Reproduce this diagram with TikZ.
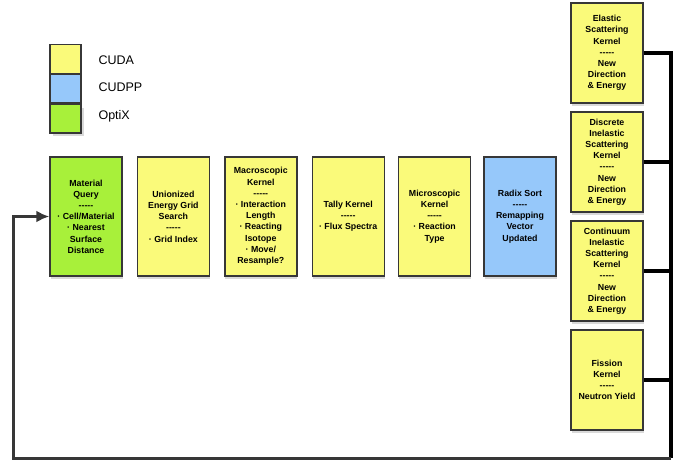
\documentclass[tikz,border=0pt]{standalone}
\usepackage{fontspec}
\setmainfont{Liberation Sans}
\usetikzlibrary{positioning,shadows,arrows.meta}
\definecolor{cudayellow}{RGB}{250,250,122}
\definecolor{cudppblue}{RGB}{150,200,250}
\definecolor{optixgreen}{RGB}{168,240,58}
\definecolor{edgegray}{RGB}{55,55,55}
\newcommand{\dashsep}{-{}-{}-{}-{}-}
\begin{document}
\begin{tikzpicture}[x=1pt,y=1pt,
        box/.style={draw=edgegray, line width=1.4pt, minimum width=72pt, inner sep=1pt,
          align=center, font=\fontsize{8.8}{11.2}\selectfont\bfseries,
          drop shadow={shadow xshift=0.5pt, shadow yshift=-3pt, opacity=0.3}},
        cuda/.style={box, fill=cudayellow},
        cudpp/.style={box, fill=cudppblue},
        optix/.style={box, fill=optixgreen},
        mainbox/.style={minimum height=119pt},
        sidebox/.style={cuda, minimum height=100pt},
        swatch/.style={draw=edgegray, line width=1.4pt, minimum width=31pt, minimum height=28.5pt, inner sep=0pt},
        legendtext/.style={anchor=west, font=\fontsize{12.5}{14}\selectfont},
        bus/.style={line width=3.2pt, black},
        back/.style={line width=3pt, edgegray, -{Latex[length=13pt,width=12pt]}}]
  \useasboundingbox (0,0) rectangle (681,-464);
  % legend
  \node[swatch, fill=cudayellow] (legcuda) at (65.5,-59) {};
  \node[swatch, fill=cudppblue, below=0pt of legcuda] (legcudpp) {};
  \node[swatch, fill=optixgreen, below=0pt of legcudpp, drop shadow={shadow yshift=-3pt, opacity=0.3}] (legoptix) {};
  \node[legendtext] (txtcuda) at (95,-60) {CUDA};
  \node[legendtext] (txtcudpp) at (95,-87) {CUDPP};
  \node[legendtext] (txtoptix) at (95,-116) {OptiX};
  % main pipeline
  \node[optix, mainbox] (mat) at (86,-216.5) {Material\\Query\\\dashsep\\· Cell/Material\\· Nearest\\Surface\\Distance};
  \node[cuda, mainbox, right=14pt of mat] (grid) {Unionized\\Energy Grid\\Search\\\dashsep\\· Grid Index};
  \node[cuda, mainbox, right=14pt of grid] (macro) {Macroscopic\\Kernel\\\dashsep\\· Interaction\\Length\\· Reacting\\Isotope\\· Move/\\Resample?};
  \node[cuda, mainbox, right=14pt of macro] (tally) {Tally Kernel\\\dashsep\\· Flux Spectra};
  \node[cuda, mainbox, right=13pt of tally] (micro) {Microscopic\\Kernel\\\dashsep\\· Reaction\\Type};
  \node[cudpp, mainbox, right=12pt of micro] (radix) {Radix Sort\\\dashsep\\Remapping\\Vector\\Updated};
  % reaction kernels
  \node[sidebox] (elastic) at (607,-53) {Elastic\\Scattering\\Kernel\\\dashsep\\New\\Direction\\\& Energy};
  \node[sidebox, below=7.6pt of elastic] (discrete) {Discrete\\Inelastic\\Scattering\\Kernel\\\dashsep\\New\\Direction\\\& Energy};
  \node[sidebox, below=7.6pt of discrete] (continuum) {Continuum\\Inelastic\\Scattering\\Kernel\\\dashsep\\New\\Direction\\\& Energy};
  \node[sidebox, below=7.6pt of continuum] (fission) {Fission\\Kernel\\\dashsep\\Neutron Yield};
  % loop back
  \coordinate (busend) at (671,-458);
  \coordinate (loopend) at (13,-458);
  \draw[bus] (elastic.east) -| (busend);
  \draw[bus] (discrete.east) -- (discrete.east -| busend);
  \draw[bus] (continuum.east) -- (continuum.east -| busend);
  \draw[bus] (fission.east) -- (fission.east -| busend);
  \draw[back] (busend) -- (loopend) |- (mat.west);
\end{tikzpicture}
\end{document}
